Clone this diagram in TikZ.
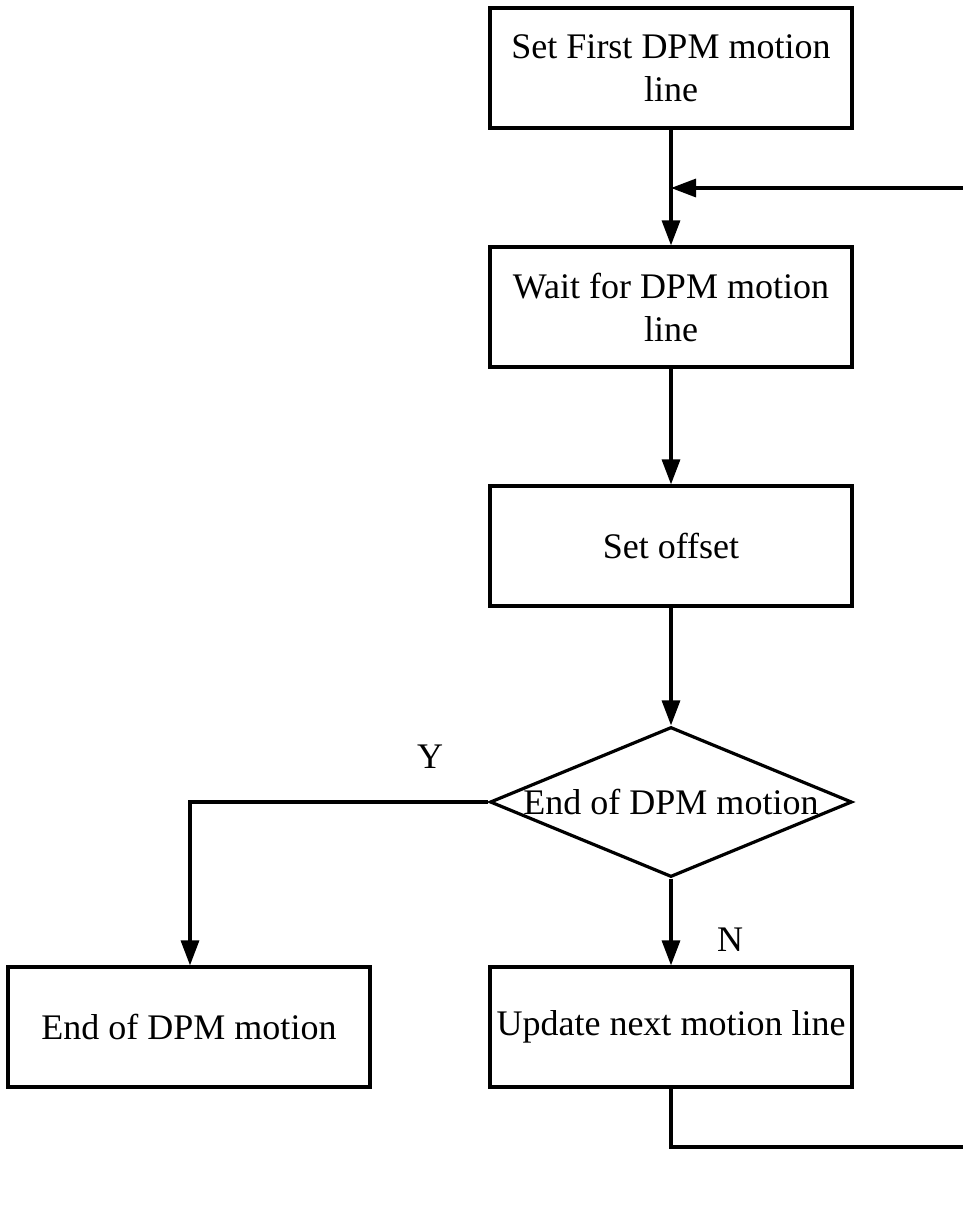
\documentclass[tikz,border=0pt]{standalone}
\usepackage{fontspec}
\setmainfont{Liberation Serif}
\usetikzlibrary{shapes.geometric,arrows.meta}
\begin{document}
\begin{tikzpicture}[x=1pt,y=-1pt,
  every node/.style={font=\fontsize{36}{43}\selectfont},
  stepbox/.style={draw,line width=3.2pt,minimum width=362pt,minimum height=120pt,inner sep=0pt,align=center},
  decision/.style={draw,diamond,line width=3.2pt,minimum width=362pt,minimum height=150pt,inner sep=0pt,aspect=2.41},
  flow/.style={line width=3.2pt,-{Triangle[length=25pt,width=18pt]}},
  plain/.style={line width=3.2pt},
  tag/.style={inner sep=0pt}]
\useasboundingbox (0,0) rectangle (963,1205);

\node[stepbox] (first) at (671,68) {Set First DPM motion\\line};
\node[stepbox] (wait) at (671,307) {Wait for DPM motion\\line};
\node[stepbox] (offset) at (671,546) {Set offset};
\node[decision,label={center:End of DPM motion}] (check) at (671,802) {};
\node[stepbox] (done) at (189,1027) {End of DPM motion};
\node[stepbox] (update) at (671,1027) {Update next motion line};

\node[tag] (yes) at (430,757) {Y};
\node[tag] (no) at (730,940) {N};

\coordinate (loopin) at (963,188);
\coordinate (loopout) at (963,1147);
\coordinate (ybend) at (190,802);

\draw[flow] (first.south) -- (wait.north);
\draw[flow] (loopin) -- (first.south |- loopin);
\draw[flow] (wait.south) -- (offset.north);
\draw[flow] (offset.south) -- (check.north);
\draw[flow] (check.west) -- (ybend) -- (ybend |- done.north);
\draw[flow] (check.south) -- (update.north);
\draw[plain] (update.south) -- (update.south |- loopout) -- (loopout);
\end{tikzpicture}
\end{document}
